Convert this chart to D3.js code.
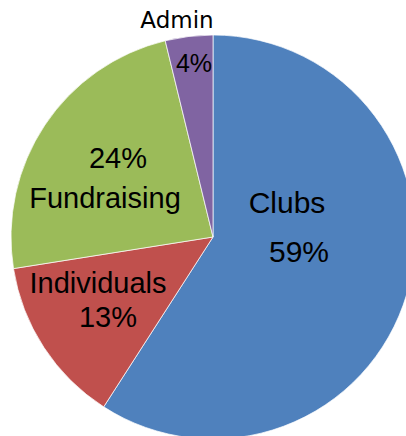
<!DOCTYPE html>
<html>
<head>
<meta charset="utf-8">
<script src="https://cdn.jsdelivr.net/npm/d3@7"></script>
<style>
  html, body { margin: 0; padding: 0; background: #fff; }
  svg { display: block; }
</style>
</head>
<body>
<div id="chart"></div>
<script>
// data, clockwise from 12 o'clock
const categories = ['Clubs', 'Individuals', 'Fundraising', 'Admin'];
const shares = [59.1, 13.4, 23.7, 3.8];
const colors = ['#4F81BD', '#C0504D', '#9BBB59', '#8064A2'];

const W = 406, H = 436;
const cx = 213, cy = 237, R = 202;

// label layout: [dx, dy] of name and percent baselines from the centre
const labelLayout = {
  Clubs:       { name: [74, -24], pct: [86, 25], size: 30 },
  Individuals: { name: [-115, 56], pct: [-105, 90], size: 29 },
  Fundraising: { name: [-108, -29], pct: [-95, -69], size: 29 },
  Admin:       { name: [-36, -209], pct: [-19, -165], size: 25, outside: true }
};

const svg = d3.select('#chart').append('svg')
  .attr('width', W)
  .attr('height', H);

const pie = d3.pie().sort(null).value(d => d.value);
const arc = d3.arc().innerRadius(0).outerRadius(R);

const data = categories.map((c, i) => ({ name: c, value: shares[i], color: colors[i] }));

const g = svg.append('g').attr('transform', `translate(${cx},${cy})`);

g.selectAll('path')
  .data(pie(data))
  .join('path')
  .attr('d', arc)
  .attr('fill', d => d.data.color)
  .attr('stroke', '#ffffff')
  .attr('stroke-width', 0.7);

// labels
const labels = g.append('g').attr('class', 'labels');
data.forEach(d => {
  const L = labelLayout[d.name];
  const pctText = Math.round(d.value) + '%';
  labels.append('text')
    .attr('x', L.name[0]).attr('y', L.name[1])
    .attr('text-anchor', 'middle')
    .attr('font-family', L.outside ? '"DejaVu Sans", sans-serif' : '"Liberation Sans", Arial, sans-serif')
    .attr('font-size', L.outside ? 23 : L.size)
    .attr('fill', '#000')
    .text(d.name);
  labels.append('text')
    .attr('x', L.pct[0]).attr('y', L.pct[1])
    .attr('text-anchor', 'middle')
    .attr('font-family', '"Liberation Sans", Arial, sans-serif')
    .attr('font-size', L.size)
    .attr('fill', '#000')
    .text(pctText);
});
</script>
</body>
</html>
